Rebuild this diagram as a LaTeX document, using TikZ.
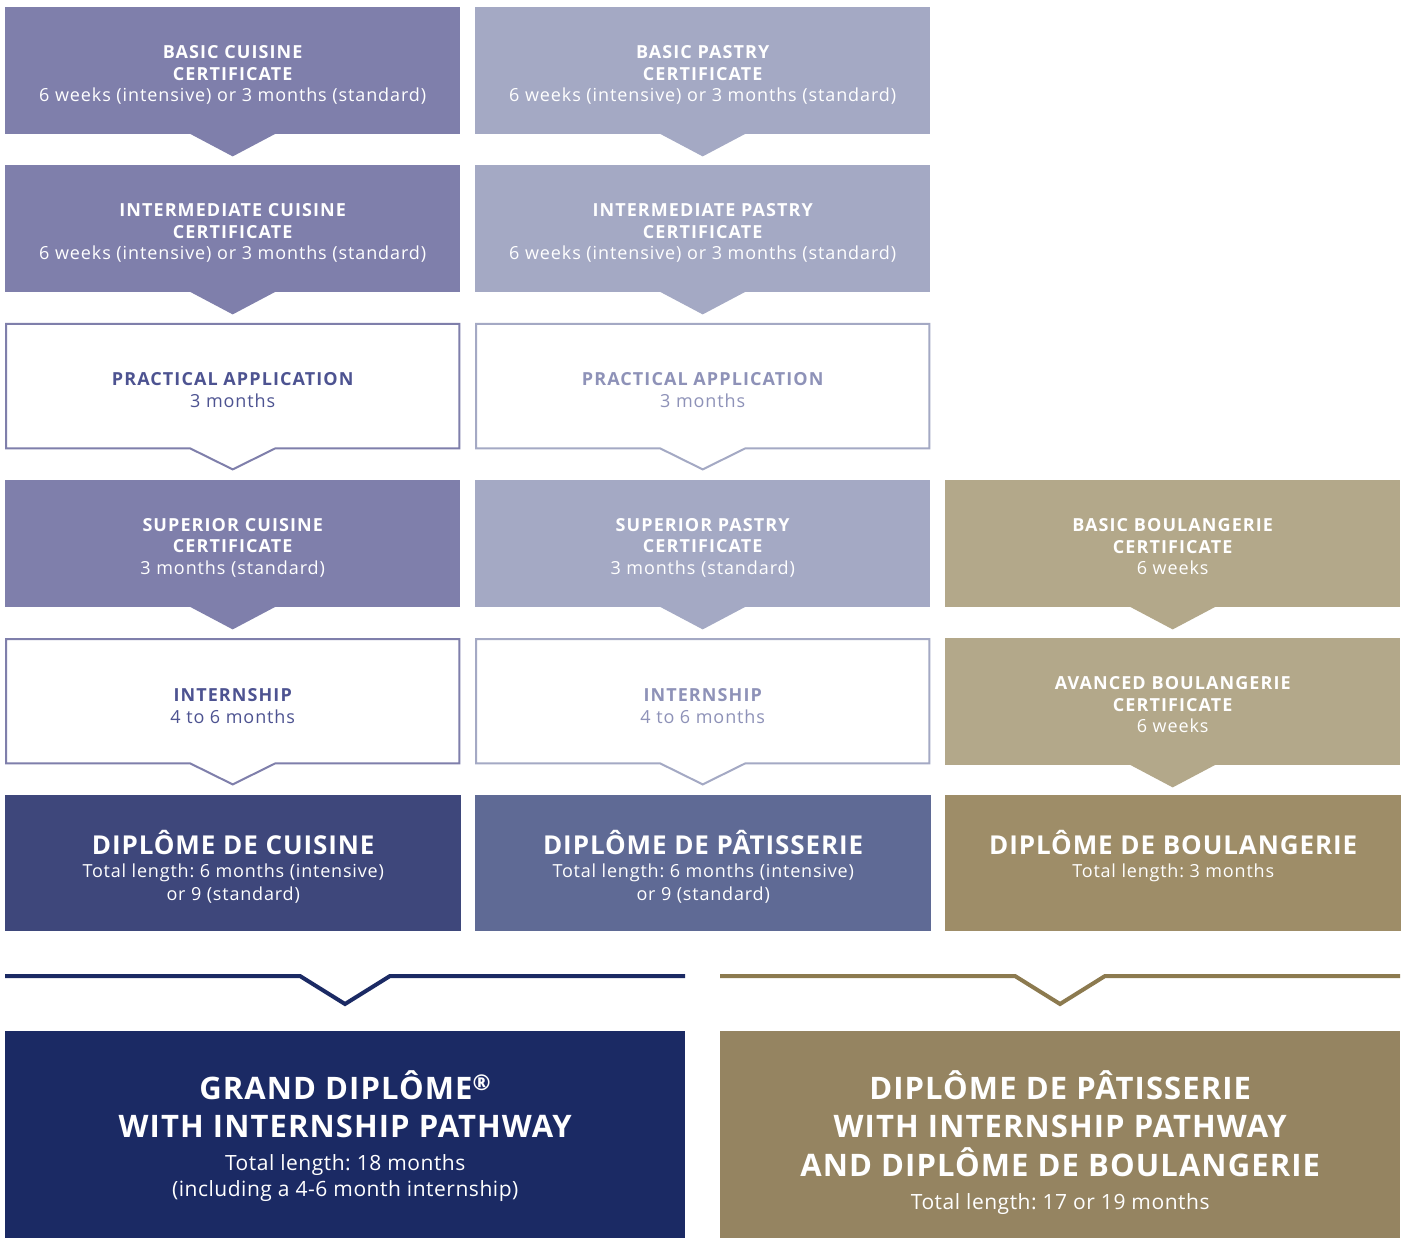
\documentclass[tikz,border=0pt]{standalone}
\usepackage{fontspec}
\setmainfont{Open Sans}
\usetikzlibrary{calc}
\frenchspacing

\definecolor{cuisine}{HTML}{7F7FAB}
\definecolor{pastry}{HTML}{A4A9C4}
\definecolor{boulang}{HTML}{B3A88A}
\definecolor{dipcuis}{HTML}{3E477B}
\definecolor{dippast}{HTML}{5F6A95}
\definecolor{dipboul}{HTML}{9E8D68}
\definecolor{grandnavy}{HTML}{1B2A64}
\definecolor{grandgold}{HTML}{958461}
\definecolor{goldline}{HTML}{8C7A4F}
\definecolor{cuistext}{HTML}{4D5391}
\definecolor{pasttext}{HTML}{8E92B8}

% type sizes, each with a little extra tracking
\newcommand{\tilehead}[1]{{\fontsize{18}{21.5}\selectfont\addfontfeature{LetterSpace=6}\bfseries #1}}
\newcommand{\tilebody}[1]{{\fontsize{18}{21.5}\selectfont\addfontfeature{LetterSpace=5}#1}}
\newcommand{\diphead}[1]{{\fontsize{26}{28}\selectfont\addfontfeature{LetterSpace=3.5}\bfseries #1}}
\newcommand{\dipbody}[1]{{\fontsize{18}{23}\selectfont\addfontfeature{LetterSpace=4.5}#1}}
\newcommand{\bighead}[1]{{\fontsize{31}{38}\selectfont\addfontfeature{LetterSpace=3.5}\bfseries #1}}
\newcommand{\bigbody}[1]{{\fontsize{21}{26}\selectfont\addfontfeature{LetterSpace=2.5}#1}}

% filled chevron hanging under a tile
\newcommand{\chev}[2]{%
  \fill[#2] ($(#1.south)+(-42.5,-0.5)$) -- ($(#1.south)+(42.5,-0.5)$)
    -- ($(#1.south)+(0,22)$) -- cycle;}
% outlined tile whose lower border folds into a chevron
\newcommand{\outl}[2]{%
  \draw[#2, line width=2pt, line join=miter]
    (#1.north west) -- (#1.north east) -- (#1.south east)
    -- ($(#1.south)+(42.5,0)$) -- ($(#1.south)+(0,21)$)
    -- ($(#1.south)+(-42.5,0)$) -- (#1.south west) -- cycle;}

\begin{document}
\begin{tikzpicture}[x=1pt, y=-1pt,
  tile/.style={anchor=north west, minimum width=455pt, minimum height=127pt,
    inner sep=0pt},
  ltile/.style={tile, minimum width=453pt, minimum height=124pt},
  tiletext/.style={inner sep=0pt, align=center, text=white,
    font=\fontsize{18}{21.5}\selectfont},
  dip/.style={anchor=north west, minimum width=456pt, minimum height=136pt,
    inner sep=0pt},
  diptext/.style={anchor=north, inner sep=0pt, align=center, text=white,
    font=\fontsize{18}{23}\selectfont},
  big/.style={anchor=north west, minimum width=680pt, minimum height=207pt,
    inner sep=0pt},
  bigtext/.style={anchor=north, inner sep=0pt, align=center, text=white,
    font=\fontsize{21}{26}\selectfont},
  sep/.style={line width=4pt, line join=miter}]

\fill[white] (0,0) rectangle (1405,1238);
\useasboundingbox (0,0) rectangle (1405,1238);

% ---- cuisine column ----
\node[tile, fill=cuisine] (c1) at (5,7) {};
\node[tiletext] (c1t) at ($(c1.center)+(0,4.5)$)
  {\tilehead{BASIC CUISINE}\\\tilehead{CERTIFICATE}\\\tilebody{6 weeks (intensive) or 3 months (standard)}};
\chev{c1}{cuisine}
\node[tile, fill=cuisine] (c2) at (5,165) {};
\node[tiletext] (c2t) at ($(c2.center)+(0,4.5)$)
  {\tilehead{INTERMEDIATE CUISINE}\\\tilehead{CERTIFICATE}\\\tilebody{6 weeks (intensive) or 3 months (standard)}};
\chev{c2}{cuisine}
\node[ltile] (c3) at (6,324) {};
\node[tiletext, text=cuistext] (c3t) at ($(c3.center)+(0,4)$)
  {\tilehead{PRACTICAL APPLICATION}\\\tilebody{3 months}};
\outl{c3}{cuisine}
\node[tile, fill=cuisine] (c4) at (5,480) {};
\node[tiletext] (c4t) at ($(c4.center)+(0,4)$)
  {\tilehead{SUPERIOR CUISINE}\\\tilehead{CERTIFICATE}\\\tilebody{3 months (standard)}};
\chev{c4}{cuisine}
\node[ltile] (c5) at (6,639) {};
\node[tiletext, text=cuistext] (c5t) at ($(c5.center)+(0,5)$)
  {\tilehead{INTERNSHIP}\\\tilebody{4 to 6 months}};
\outl{c5}{cuisine}

% ---- pastry column ----
\node[tile, fill=pastry] (p1) at (475,7) {};
\node[tiletext] (p1t) at ($(p1.center)+(0,4.5)$)
  {\tilehead{BASIC PASTRY}\\\tilehead{CERTIFICATE}\\\tilebody{6 weeks (intensive) or 3 months (standard)}};
\chev{p1}{pastry}
\node[tile, fill=pastry] (p2) at (475,165) {};
\node[tiletext] (p2t) at ($(p2.center)+(0,4.5)$)
  {\tilehead{INTERMEDIATE PASTRY}\\\tilehead{CERTIFICATE}\\\tilebody{6 weeks (intensive) or 3 months (standard)}};
\chev{p2}{pastry}
\node[ltile] (p3) at (476,324) {};
\node[tiletext, text=pasttext] (p3t) at ($(p3.center)+(0,4)$)
  {\tilehead{PRACTICAL APPLICATION}\\\tilebody{3 months}};
\outl{p3}{pastry}
\node[tile, fill=pastry] (p4) at (475,480) {};
\node[tiletext] (p4t) at ($(p4.center)+(0,4)$)
  {\tilehead{SUPERIOR PASTRY}\\\tilehead{CERTIFICATE}\\\tilebody{3 months (standard)}};
\chev{p4}{pastry}
\node[ltile] (p5) at (476,639) {};
\node[tiletext, text=pasttext] (p5t) at ($(p5.center)+(0,5)$)
  {\tilehead{INTERNSHIP}\\\tilebody{4 to 6 months}};
\outl{p5}{pastry}

% ---- boulangerie column ----
\node[tile, fill=boulang] (b4) at (945,480) {};
\node[tiletext] (b4t) at ($(b4.center)+(0,3)$)
  {\tilehead{BASIC BOULANGERIE}\\\tilehead{CERTIFICATE}\\\tilebody{6 weeks}};
\chev{b4}{boulang}
\node[tile, fill=boulang] (b5) at (945,638) {};
\node[tiletext] (b5t) at ($(b5.center)+(0,3)$)
  {\tilehead{AVANCED BOULANGERIE}\\\tilehead{CERTIFICATE}\\\tilebody{6 weeks}};
\chev{b5}{boulang}

% ---- diplomas ----
\node[dip, fill=dipcuis] (d1) at (5,795) {};
\node[diptext] (d1t) at ($(d1.north)+(0,35)$)
  {\diphead{DIPLÔME DE CUISINE}\\
   \dipbody{Total length: 6 months (intensive)}\\\dipbody{or 9 (standard)}};
\node[dip, fill=dippast] (d2) at (475,795) {};
\node[diptext] (d2t) at ($(d2.north)+(0,35)$)
  {\diphead{DIPLÔME DE PÂTISSERIE}\\
   \dipbody{Total length: 6 months (intensive)}\\\dipbody{or 9 (standard)}};
\node[dip, fill=dipboul] (d3) at (945,795) {};
\node[diptext] (d3t) at ($(d3.north)+(0,35)$)
  {\diphead{DIPLÔME DE BOULANGERIE}\\
   \dipbody{Total length: 3 months}};

% ---- joining rules ----
\coordinate (la) at (5,976);   \coordinate (lb) at (685,976);
\coordinate (ra) at (720,976); \coordinate (rb) at (1400,976);
\draw[sep, grandnavy] (la) -- (300,976) -- (345,1004) -- (390,976) -- (lb);
\draw[sep, goldline] (ra) -- (1015,976) -- (1060,1004) -- (1105,976) -- (rb);

% ---- combined programmes ----
\node[big, fill=grandnavy] (g1) at (5,1031) {};
\node[bigtext] (g1t) at ($(g1.north)+(0,39)$)
  {\bighead{GRAND DIPLÔME\textsuperscript{®}}\\[12pt]
   \bighead{WITH INTERNSHIP PATHWAY}\\[7.5pt]
   \bigbody{Total length: 18 months}\\\bigbody{(including a 4-6 month internship)}};
\node[big, fill=grandgold] (g2) at (720,1031) {};
\node[bigtext] (g2t) at ($(g2.north)+(0,39)$)
  {\bighead{DIPLÔME DE PÂTISSERIE}\\[12pt]
   \bighead{WITH INTERNSHIP PATHWAY}\\[9pt]
   \bighead{AND DIPLÔME DE BOULANGERIE}\\[7.5pt]
   \bigbody{Total length: 17 or 19 months}};
\end{tikzpicture}
\end{document}
